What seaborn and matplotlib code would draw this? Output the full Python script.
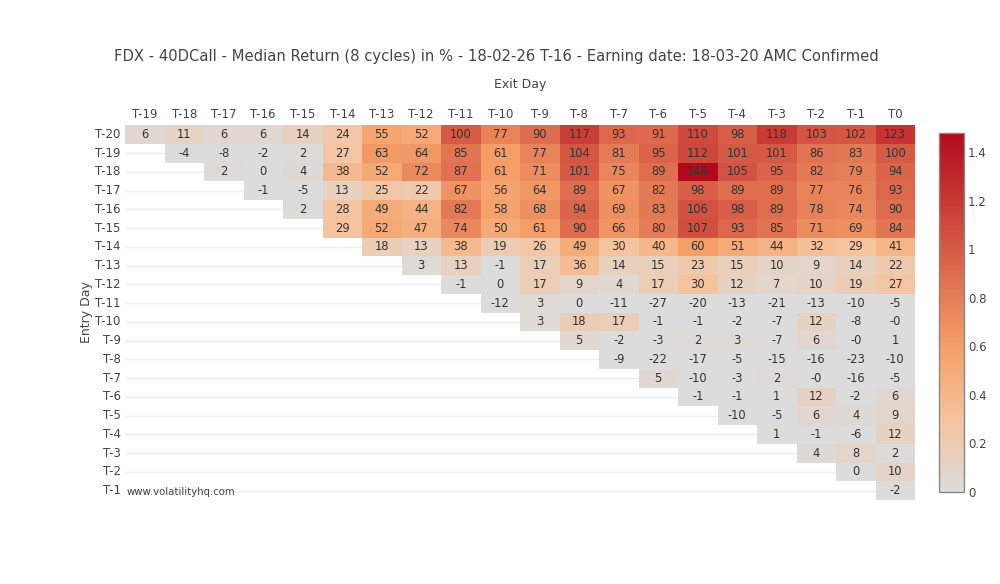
import numpy as np
import pandas as pd
import matplotlib
matplotlib.use('Agg')
import matplotlib.pyplot as plt
import seaborn as sns
from matplotlib.colors import LinearSegmentedColormap

#Exit days (columns) and entry days (rows)
exit_days = ['T-19', 'T-18', 'T-17', 'T-16', 'T-15', 'T-14', 'T-13', 'T-12', 'T-11', 'T-10',
             'T-9', 'T-8', 'T-7', 'T-6', 'T-5', 'T-4', 'T-3', 'T-2', 'T-1', 'T0']
entry_days = ['T-20', 'T-19', 'T-18', 'T-17', 'T-16', 'T-15', 'T-14', 'T-13', 'T-12', 'T-11',
              'T-10', 'T-9', 'T-8', 'T-7', 'T-6', 'T-5', 'T-4', 'T-3', 'T-2', 'T-1']

#Median return in % for each entry day, starting at the exit day right after entry
row_t20 = [6, 11, 6, 6, 14, 24, 55, 52, 100, 77, 90, 117, 93, 91, 110, 98, 118, 103, 102, 123]
row_t19 = [-4, -8, -2, 2, 27, 63, 64, 85, 61, 77, 104, 81, 95, 112, 101, 101, 86, 83, 100]
row_t18 = [2, 0, 4, 38, 52, 72, 87, 61, 71, 101, 75, 89, 148, 105, 95, 82, 79, 94]
row_t17 = [-1, -5, 13, 25, 22, 67, 56, 64, 89, 67, 82, 98, 89, 89, 77, 76, 93]
row_t16 = [2, 28, 49, 44, 82, 58, 68, 94, 69, 83, 106, 98, 89, 78, 74, 90]
row_t15 = [29, 52, 47, 74, 50, 61, 90, 66, 80, 107, 93, 85, 71, 69, 84]
row_t14 = [18, 13, 38, 19, 26, 49, 30, 40, 60, 51, 44, 32, 29, 41]
row_t13 = [3, 13, -1, 17, 36, 14, 15, 23, 15, 10, 9, 14, 22]
row_t12 = [-1, 0, 17, 9, 4, 17, 30, 12, 7, 10, 19, 27]
row_t11 = [-12, 3, 0, -11, -27, -20, -13, -21, -13, -10, -5]
row_t10 = [3, 18, 17, -1, -1, -2, -7, 12, -8, -0.4]
row_t9 = [5, -2, -3, 2, 3, -7, 6, -0.4, 1]
row_t8 = [-9, -22, -17, -5, -15, -16, -23, -10]
row_t7 = [5, -10, -3, 2, -0.4, -16, -5]
row_t6 = [-1, -1, 1, 12, -2, 6]
row_t5 = [-10, -5, 6, 4, 9]
row_t4 = [1, -1, -6, 12]
row_t3 = [4, 8, 2]
row_t2 = [0, 10]
row_t1 = [-2]

rows = [row_t20, row_t19, row_t18, row_t17, row_t16, row_t15, row_t14, row_t13, row_t12, row_t11,
        row_t10, row_t9, row_t8, row_t7, row_t6, row_t5, row_t4, row_t3, row_t2, row_t1]

#Build the triangular matrix (NaN where exit is not after entry)
n = len(exit_days)
mat = np.full((len(entry_days), n), np.nan)
for i, r in enumerate(rows):
    mat[i, n - len(r):] = r
df = pd.DataFrame(mat / 100, index=entry_days, columns=exit_days)
labels = np.where(np.isnan(mat), '', np.vectorize(lambda v: f'{v:.0f}')(np.nan_to_num(mat)))

#Plotly style "Reds" colour scale
cmap = LinearSegmentedColormap.from_list('plotly_reds', [
    (0.0, (220/255, 220/255, 220/255)),
    (0.2, (245/255, 195/255, 157/255)),
    (0.4, (245/255, 160/255, 105/255)),
    (1.0, (178/255, 10/255, 28/255))])

sns.set_style('white')
plt.rcParams['font.family'] = ['DejaVu Sans']
fig = plt.figure(figsize=(10, 5.84), dpi=100)
ax = fig.add_axes([0.125, 1 - 500/584, 0.79, 375/584])
cax = fig.add_axes([0.939, 1 - 492/584, 0.025, 359/584])

ax.set_axisbelow(True)
sns.heatmap(df, ax=ax, cmap=cmap, vmin=0, vmax=1.48, annot=labels, fmt='',
            annot_kws={'fontsize': 8.3, 'color': '#333333'}, cbar_ax=cax,
            cbar_kws={'ticks': [0, 0.2, 0.4, 0.6, 0.8, 1, 1.2, 1.4]})
for t in ax.texts:
    t.set_color('#333333')
ax.grid(axis='y', color='#ececec', lw=1)
ax.grid(axis='x', visible=False)
for s in ax.spines.values():
    s.set_visible(False)

ax.xaxis.tick_top()
ax.xaxis.set_label_position('top')
ax.tick_params(length=0, labelsize=8.5, labelcolor='#444444', pad=3)
plt.setp(ax.get_xticklabels(), rotation=0)
plt.setp(ax.get_yticklabels(), rotation=0)
ax.set_xlabel('Exit Day', fontsize=9, color='#444444', labelpad=14)
ax.set_ylabel('Entry Day', fontsize=9, color='#444444', labelpad=2)

cax.tick_params(length=0, labelsize=8.5, labelcolor='#444444', pad=3)
cax.set_yticklabels(['0', '0.2', '0.4', '0.6', '0.8', '1', '1.2', '1.4'])
cb = ax.collections[0].colorbar
cb.outline.set_edgecolor('#888888')
cb.outline.set_linewidth(1)

fig.text(0.496, 1 - 57/584, 'FDX - 40DCall - Median Return (8 cycles) in % - 18-02-26 T-16 - Earning date: 18-03-20 AMC Confirmed',
         ha='center', va='center', fontsize=10.6, color='#444444')
fig.text(0.127, 1 - 492/584, 'www.volatilityhq.com', ha='left', va='center', fontsize=7.3, color='#444444')

fig.savefig('out.png', dpi=100, facecolor='white')
